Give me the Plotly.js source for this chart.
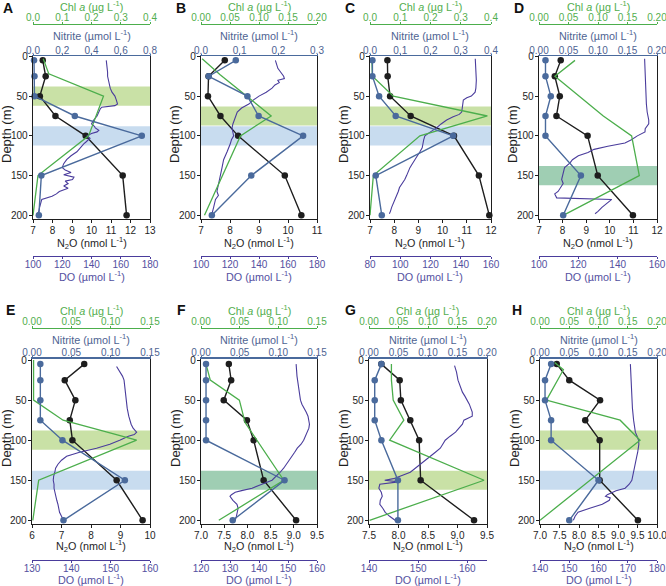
<!DOCTYPE html>
<html>
<head>
<meta charset="utf-8">
<script src="https://cdn.plot.ly/plotly-3.0.1.min.js"></script>
<style>
  html, body { margin: 0; padding: 0; background: #ffffff; }
  #chart { width: 666px; height: 586px; }
</style>
</head>
<body>
<div id="chart"></div>
<script>
// Depth profiles of N2O, nitrite, Chl a and dissolved oxygen at eight stations (A–H)

const sampleDepths = [5, 25, 50, 75, 100, 150, 200];

// Station A
const n2oA = [7.5, 7.65, 7.35, 8.15, 9.7, 11.6, 11.8];
const nitriteA = [0.007, 0.01, 0.01, 0.286, 0.744, 0.057, 0.04];
const chlDepthA = [3, 22, 50, 100, 150, 200];
const chlA = [0.035, 0.054, 0.241, 0.19, 0.017, 0.0];
const doDepthA = [5, 10, 15, 20, 25, 30, 35, 40, 45, 50, 55, 60, 62, 64, 66, 70, 75, 80, 85, 88, 90, 93, 95, 97, 100, 103, 105, 108, 110, 115, 120, 125, 130, 135, 140, 143, 146, 149, 152, 155, 157, 160, 163, 166, 170, 173, 176, 180, 185, 190, 195, 198];
const doA = [150.1, 150.5, 150.8, 151, 151, 151.5, 152.5, 152.8, 154, 156, 157, 157.8, 156, 147, 146, 145, 143.8, 141.5, 140, 142, 142.6, 145, 143.8, 140, 137, 139, 138, 136, 134.7, 132, 130, 126, 123, 121, 120, 122, 126, 121, 128, 127, 122, 124, 121, 124, 118, 116, 113, 106, 105, 104.5, 104, 103];

// Station B
const n2oB = [7.82, 7.26, 7.24, 7.67, 8.28, 9.89, 10.46];
const nitriteB = [0.09, 0.02, 0.12, 0.149, 0.264, 0.13, 0.028];
const chlDepthB = [3, 23, 75, 100, 200];
const chlB = [0.002, 0.033, 0.121, 0.068, 0.006];
const doDepthB = [5, 10, 15, 20, 25, 28, 30, 33, 36, 40, 45, 50, 55, 60, 65, 70, 75, 80, 85, 90, 95, 100, 105, 110, 120, 130, 140, 150, 160, 170, 175, 180, 190, 198];
const doB = [151.3, 152, 153, 155, 157, 157.5, 153, 154, 151, 149, 145, 140, 136, 133, 128, 125, 124, 122.5, 122, 121.4, 122, 122.5, 121, 120.2, 118, 115.6, 114.5, 113.3, 112, 111, 112, 110, 108.7, 107.6];

// Station C
const n2oC = [7.72, 7.73, 7.83, 8.68, 10.47, 11.5, 11.93];
const nitriteC = [0.008, 0.008, 0.03, 0.085, 0.275, 0.019, 0.039];
const chlDepthC = [4, 25, 50, 75, 100, 150, 200];
const chlC = [0.006, 0.008, 0.077, 0.388, 0.165, 0.011, 0.0];
const doDepthC = [3, 10, 20, 25, 30, 40, 45, 50, 52, 55, 60, 65, 70, 73, 76, 80, 85, 90, 95, 100, 105, 110, 115, 120, 125, 130, 135, 140, 145, 150, 155, 160, 165, 170, 175, 180, 185, 190, 195, 198];
const doC = [149.6, 149.8, 150.2, 150.5, 150.3, 150, 149.5, 147, 144, 141.7, 141.5, 141, 140.6, 139, 135, 130.7, 127, 124, 120, 116.3, 115.5, 115.2, 114.5, 113, 111.5, 109.7, 108, 106.4, 105.5, 104.2, 103, 101, 99.5, 98.7, 97.5, 96.5, 95.5, 94.3, 93.5, 92.8];

// Station D
const n2oD = [7.92, 7.67, 7.88, 7.74, 9.06, 9.49, 10.98];
const nitriteD = [0.011, 0.011, 0.02, 0.011, 0.011, 0.071, 0.041];
const chlDepthD = [5, 25, 75, 100, 150, 200];
const chlD = [0.061, 0.027, 0.109, 0.157, 0.17, 0.041];
const doDepthD = [3, 25, 50, 60, 70, 75, 80, 85, 88, 91, 95, 100, 105, 109, 113, 117, 121, 125, 130, 134, 140, 145, 150, 155, 160, 165, 170, 173, 176, 178, 180, 182, 185, 190, 195, 198];
const doD = [153.7, 154, 154.3, 154.6, 155, 155.4, 155.8, 155.8, 155, 154, 153.9, 150, 147, 143.7, 135, 128, 124.9, 120, 117, 115.8, 113, 112.5, 112, 111.5, 112.3, 111, 109.7, 108, 108.5, 109, 137, 136, 134, 132, 130, 128.5];

// Station E
const n2oE = [7.77, 7.11, 7.47, 7.28, 7.37, 8.87, 9.75];
const nitriteE = [0.0106, 0.0106, 0.0106, 0.0106, 0.0387, 0.118, 0.04];
const chlDepthE = [0, 50, 75, 100, 150, 200];
const chlE = [0.002, 0.002, 0.0395, 0.133, 0.0085, 0.001];
const doDepthE = [8, 15, 20, 25, 35, 50, 60, 70, 75, 80, 85, 90, 93, 95, 100, 105, 110, 115, 120, 125, 130, 135, 140, 145, 150, 155, 160, 165, 170, 175, 180, 185, 190, 195, 200];
const doE = [151.5, 152.5, 153, 153.4, 153.6, 153.9, 154.2, 154.6, 154.9, 155.2, 155.7, 156.6, 156, 154.5, 152.3, 149.8, 146.4, 142.1, 138.8, 137.5, 136.6, 136, 135.8, 135.5, 135.4, 135.6, 135.6, 135.8, 136, 136.3, 136.6, 136.8, 137, 137.5, 138];

// Station F
const n2oF = [7.6, 7.65, 7.49, 7.99, 8.135, 8.35, 9.05];
const nitriteF = [0.0065, 0.0065, 0.0065, 0.0065, 0.0065, 0.108, 0.041];
const chlDepthF = [5, 25, 50, 78, 150, 200];
const chlF = [0.0065, 0.012, 0.0496, 0.057, 0.107, 0.023];
const doDepthF = [5, 10, 15, 20, 25, 30, 40, 50, 55, 60, 65, 70, 75, 80, 85, 90, 95, 100, 105, 110, 115, 120, 125, 130, 135, 140, 145, 150, 155, 160, 163, 165, 168, 170, 175, 180, 185, 190, 195, 200];
const doF = [152.8, 153, 153, 153.1, 153.3, 153.4, 153.8, 154.3, 154.8, 155.7, 156.3, 156.9, 157.2, 157.4, 157.2, 156.6, 156, 155.4, 154.5, 153.2, 152.3, 151.4, 150.5, 149.7, 148.5, 147.3, 146, 144.5, 141, 137.6, 134, 131.8, 130.5, 130, 131, 132.4, 132.8, 132.6, 132.2, 131.8];

// Station G
const n2oG = [7.71, 8.02, 8.04, 8.2, 8.35, 8.375, 9.28];
const nitriteG = [0.021, 0.0097, 0.0097, 0.0097, 0.021, 0.049, 0.049];
const chlDepthG = [5, 25, 50, 75, 100, 150, 200];
const chlG = [0.038, 0.038, 0.041, 0.059, 0.035, 0.195, 0.001];
const doDepthG = [7, 15, 25, 30, 40, 45, 50, 55, 60, 65, 70, 73, 75, 80, 85, 90, 95, 100, 105, 110, 115, 120, 125, 130, 135, 140, 145, 148, 150, 152, 155, 160, 165, 170, 175, 180, 185, 190, 195, 200];
const doG = [157.4, 157.8, 158.1, 158.4, 159, 159.5, 160, 160.4, 160.7, 161, 161, 160, 159.3, 159, 158.3, 157.6, 156.5, 155.5, 155, 154.5, 153.5, 152.5, 151.5, 150.4, 149.4, 148.4, 146.3, 145, 143.2, 146, 142.2, 142, 142.5, 142.7, 142.3, 142.2, 142.8, 143.3, 144.2, 145.3];

// Station H
const n2oH = [7.43, 7.75, 8.54, 8.16, 8.53, 8.53, 9.51];
const nitriteH = [0.019, 0.0086, 0.0086, 0.019, 0.019, 0.1, 0.05];
const chlDepthH = [3, 12, 50, 75, 100, 200];
const chlH = [0.025, 0.04, 0.011, 0.137, 0.171, 0.0];
const doDepthH = [5, 15, 25, 35, 50, 60, 75, 85, 90, 95, 100, 105, 110, 115, 120, 125, 130, 135, 140, 145, 150, 155, 160, 163, 165, 168, 170, 172, 175, 178, 180, 185, 190, 195, 200];
const doH = [170.9, 171, 171.2, 171.2, 171.4, 171.6, 172, 172.3, 172.6, 173.2, 173.7, 173.8, 173.7, 173.4, 173.1, 172.8, 172.6, 172.2, 171.9, 171.7, 171.4, 170.5, 169.1, 166, 164.6, 163, 162.4, 164, 163.7, 162, 161.3, 157, 153, 152, 151.4];

// Shaded depth layers: [top, bottom, kind]
const bandsA = [[38, 62, 'chl'], [88, 112, 'no2']];
const bandsB = [[63, 87, 'chl'], [88, 112, 'no2']];
const bandsC = [[63, 87, 'chl'], [88, 112, 'no2']];
const bandsD = [[138, 162, 'both']];
const bandsE = [[88, 112, 'chl'], [138, 162, 'no2']];
const bandsF = [[138, 162, 'both']];
const bandsG = [[138, 162, 'chl']];
const bandsH = [[88, 112, 'chl'], [138, 162, 'no2']];

// Axis scales per station: [min, max, tick step, label format]
const panels = [
  {id: 'A', n2o: n2oA, no2: nitriteA, chlZ: chlDepthA, chl: chlA, doZ: doDepthA, dox: doA, bands: bandsA,
   rN2o: [7, 13, 1, 'd'], rNo2: [0, 0.8, 0.2, '.1f'], rChl: [0, 0.4, 0.1, '.1f'], rDo: [100, 180, 20, 'd']},
  {id: 'B', n2o: n2oB, no2: nitriteB, chlZ: chlDepthB, chl: chlB, doZ: doDepthB, dox: doB, bands: bandsB,
   rN2o: [7, 11, 1, 'd'], rNo2: [0, 0.3, 0.1, '.1f'], rChl: [0, 0.2, 0.05, '.2f'], rDo: [100, 180, 20, 'd']},
  {id: 'C', n2o: n2oC, no2: nitriteC, chlZ: chlDepthC, chl: chlC, doZ: doDepthC, dox: doC, bands: bandsC,
   rN2o: [7, 12, 1, 'd'], rNo2: [0, 0.4, 0.1, '.1f'], rChl: [0, 0.4, 0.1, '.1f'], rDo: [80, 160, 20, 'd']},
  {id: 'D', n2o: n2oD, no2: nitriteD, chlZ: chlDepthD, chl: chlD, doZ: doDepthD, dox: doD, bands: bandsD,
   rN2o: [7, 12, 1, 'd'], rNo2: [0, 0.2, 0.05, '.2f'], rChl: [0, 0.2, 0.05, '.2f'], rDo: [100, 160, 20, 'd']},
  {id: 'E', n2o: n2oE, no2: nitriteE, chlZ: chlDepthE, chl: chlE, doZ: doDepthE, dox: doE, bands: bandsE,
   rN2o: [6, 10, 1, 'd'], rNo2: [0, 0.15, 0.05, '.2f'], rChl: [0, 0.15, 0.05, '.2f'], rDo: [130, 160, 10, 'd']},
  {id: 'F', n2o: n2oF, no2: nitriteF, chlZ: chlDepthF, chl: chlF, doZ: doDepthF, dox: doF, bands: bandsF,
   rN2o: [7, 9.5, 0.5, '.1f'], rNo2: [0, 0.15, 0.05, '.2f'], rChl: [0, 0.15, 0.05, '.2f'], rDo: [120, 160, 10, 'd']},
  {id: 'G', n2o: n2oG, no2: nitriteG, chlZ: chlDepthG, chl: chlG, doZ: doDepthG, dox: doG, bands: bandsG,
   rN2o: [7.5, 9.5, 0.5, '.1f'], rNo2: [0, 0.2, 0.05, '.2f'], rChl: [0, 0.2, 0.05, '.2f'], rDo: [140, 164, 10, 'd']},
  {id: 'H', n2o: n2oH, no2: nitriteH, chlZ: chlDepthH, chl: chlH, doZ: doDepthH, dox: doH, bands: bandsH,
   rN2o: [7, 10, 0.5, '.1f'], rNo2: [0, 0.2, 0.05, '.2f'], rChl: [0, 0.2, 0.05, '.2f'], rDo: [140, 180, 10, 'd']}
];

// ---- page geometry (pixels) ----
const W = 666, H = 586;
const FONT = 'Liberation Sans, Arial, Helvetica, sans-serif';
const COL = {n2o: '#1e1e1e', no2: '#4a6a9c', chl: '#4cae4c', dox: '#4a3c9c',
             no2Text: '#4e6392', doText: '#5350a0', chlText: '#52ae4e'};
const BAND = {chl: '#c9e1a6', no2: '#c8dcef', both: '#9fceb3'};

const plotX = [[33, 150], [201, 317], [370, 491], [539, 657],
               [32, 150], [201, 317], [369, 487], [540, 657]];
const rows = [
  {plot: [56, 218.5], depth: [204, -0.5], chlLine: 24, doLine: 256,
   chlTitle: 6.5, no2Title: 35, n2oTitle: 242.5, doTitle: 275.5, letter: 8, depthTitle: 134},
  {plot: [358.5, 523.5], depth: [204, -2], chlLine: 328, doLine: 560,
   chlTitle: 309.5, no2Title: 339, n2oTitle: 546, doTitle: 579, letter: 310, depthTitle: 438}
];
const letterX = [8, 181, 350, 519, 10, 181, 351, 517];

const px = x => x / W;
const py = y => 1 - y / H;

const tickSize = 10, titleSize = 10.8;

const traces = [], shapes = [], annotations = [];
const layout = {
  width: W, height: H, margin: {l: 0, r: 0, t: 0, b: 0},
  paper_bgcolor: '#ffffff', plot_bgcolor: 'rgba(0,0,0,0)',
  showlegend: false, font: {family: FONT, size: tickSize, color: '#222'}
};

// tick positions from an axis scale, rounded so the end tick is kept
function tickList(r) {
  const out = [];
  const n = Math.round((r[1] - r[0]) / r[2]);
  for (let k = 0; k <= n; k++) out.push(+(r[0] + k * r[2]).toFixed(6));
  return out;
}

function fmtAxis(r, color, extra) {
  const span = r[1] - r[0];
  return Object.assign({
    range: [r[0] - span * 1e-6, r[1] + span * 1e-6], tickvals: tickList(r), tickformat: r[3],
    showgrid: false, zeroline: false, showline: true, linecolor: color, linewidth: 1.2,
    ticks: 'outside', ticklen: 2, tickwidth: 1, tickcolor: color, ticklabeloverflow: 'allow',
    tickfont: {family: FONT, size: tickSize, color: color}, fixedrange: true
  }, extra);
}

panels.forEach((p, i) => {
  const row = rows[i < 4 ? 0 : 1];
  const dom = [px(plotX[i][0]), px(plotX[i][1])];
  const n = 4 * i + 1;
  const ax = k => (k === 1 ? '' : String(k));
  const yk = ax(i + 1);
  const xBase = n, xDo = n + 1, xChl = n + 2, xNo2 = n + 3;

  layout['yaxis' + yk] = {
    domain: [py(row.plot[1]), py(row.plot[0])], range: row.depth, anchor: 'x' + ax(xBase),
    tickvals: [0, 50, 100, 150, 200], showgrid: false, zeroline: false,
    showline: true, mirror: true, linecolor: '#1e1e1e', linewidth: 1.3,
    ticks: 'outside', ticklen: 3, tickcolor: '#1e1e1e', ticklabelstandoff: -1, ticklabeloverflow: 'allow',
    tickfont: {family: FONT, size: tickSize, color: '#1e1e1e'}, fixedrange: true
  };
  layout['xaxis' + ax(xBase)] = fmtAxis(p.rN2o, '#1e1e1e',
    {domain: dom, anchor: 'y' + yk, side: 'bottom', linewidth: 1.3, ticklen: 3, ticklabelstandoff: -1});
  layout['xaxis' + ax(xDo)] = fmtAxis(p.rDo, COL.dox,
    {domain: dom, overlaying: 'x' + ax(xBase), anchor: 'free', position: py(row.doLine), side: 'bottom',
     ticklabelstandoff: -3, tickfont: {family: FONT, size: tickSize, color: COL.doText}});
  layout['xaxis' + ax(xChl)] = fmtAxis(p.rChl, COL.chl,
    {domain: dom, overlaying: 'x' + ax(xBase), anchor: 'free', position: py(row.chlLine), side: 'top',
     ticklabelstandoff: -3, tickfont: {family: FONT, size: tickSize, color: COL.chlText}});
  layout['xaxis' + ax(xNo2)] = fmtAxis(p.rNo2, COL.no2,
    {domain: dom, overlaying: 'x' + ax(xBase), anchor: 'y' + yk, side: 'top', linewidth: 1.3,
     ticklen: 1, ticklabelstandoff: -4, tickfont: {family: FONT, size: tickSize, color: COL.no2Text}});

  // shaded layers
  p.bands.forEach(b => {
    shapes.push({type: 'rect', xref: 'x' + ax(xBase) + ' domain', x0: 0, x1: 1,
      yref: 'y' + yk, y0: b[0], y1: b[1], fillcolor: BAND[b[2]], line: {width: 0}, layer: 'below'});
  });

  traces.push({x: p.n2o, y: sampleDepths, xaxis: 'x' + ax(xBase), yaxis: 'y' + yk,
    type: 'scatter', mode: 'lines+markers', line: {color: COL.n2o, width: 1.4},
    marker: {color: COL.n2o, size: 6.5}, hoverinfo: 'skip', cliponaxis: false});
  traces.push({x: p.dox, y: p.doZ, xaxis: 'x' + ax(xDo), yaxis: 'y' + yk,
    type: 'scatter', mode: 'lines', line: {color: COL.dox, width: 1.1}, hoverinfo: 'skip'});
  traces.push({x: p.chl, y: p.chlZ, xaxis: 'x' + ax(xChl), yaxis: 'y' + yk,
    type: 'scatter', mode: 'lines', line: {color: COL.chl, width: 1.3}, hoverinfo: 'skip', cliponaxis: false});
  traces.push({x: p.no2, y: sampleDepths, xaxis: 'x' + ax(xNo2), yaxis: 'y' + yk,
    type: 'scatter', mode: 'lines+markers', line: {color: COL.no2, width: 1.4},
    marker: {color: COL.no2, size: 6.5}, hoverinfo: 'skip', cliponaxis: false});

  // axis titles
  const cx = px((plotX[i][0] + plotX[i][1]) / 2);
  const addTitle = (text, y, color) => annotations.push({text: text, x: cx, y: py(y),
    xref: 'paper', yref: 'paper', xanchor: 'center', yanchor: 'middle', showarrow: false,
    font: {family: FONT, size: titleSize, color: color}});
  addTitle('Chl <i>a</i> (µg L<sup>-1</sup>)', row.chlTitle, COL.chlText);
  addTitle('Nitrite (µmol L<sup>-1</sup>)', row.no2Title, COL.no2Text);
  addTitle('N<sub>2</sub>O (nmol L<sup>-1</sup>)', row.n2oTitle, '#1e1e1e');
  addTitle('DO (µmol L<sup>-1</sup>)', row.doTitle, COL.doText);

  annotations.push({text: 'Depth (m)', textangle: -90, x: px(plotX[i][0] - 26), y: py(row.depthTitle),
    xref: 'paper', yref: 'paper', xanchor: 'center', yanchor: 'middle', showarrow: false,
    font: {family: FONT, size: 13, color: '#1e1e1e'}});
  annotations.push({text: '<b>' + p.id + '</b>', x: px(letterX[i]), y: py(row.letter),
    xref: 'paper', yref: 'paper', xanchor: 'center', yanchor: 'middle', showarrow: false,
    font: {family: FONT, size: 14, color: '#111'}});
});

layout.shapes = shapes;
layout.annotations = annotations;

Plotly.newPlot('chart', traces, layout, {staticPlot: true, displayModeBar: false});
</script>
</body>
</html>
